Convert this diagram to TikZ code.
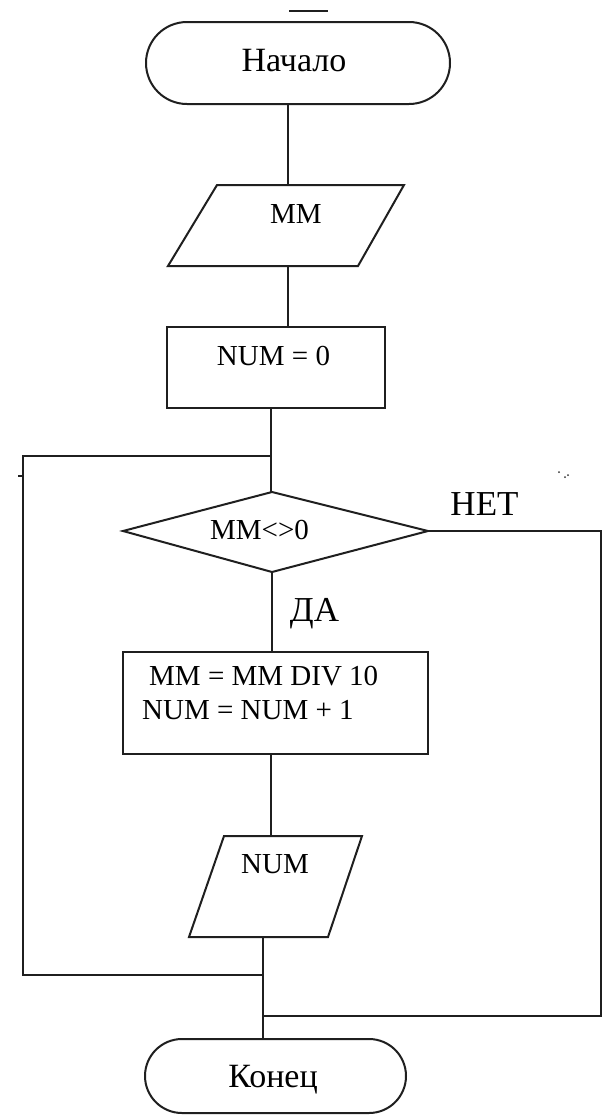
\documentclass[tikz,border=0pt]{standalone}
\usepackage{fontspec}
\setmainfont{Liberation Serif}
\begin{document}
\begin{tikzpicture}[x=1pt,y=-1pt,
  ln/.style={line width=2pt,draw=black!88},
  txt/.style={inner sep=0pt,anchor=base,font=\fontsize{29}{34}\selectfont},
  cyr/.style={inner sep=0pt,anchor=base,font=\fontsize{34}{40}\selectfont},
  big/.style={inner sep=0pt,anchor=base,font=\fontsize{35}{40}\selectfont}]
\useasboundingbox[fill=white] (0,0) rectangle (605,1117);
% decorative marks
\draw[ln] (289,11) -- (328,11);
\draw[ln] (18,476) -- (23,476);
\fill[black!80] (559,472) circle (1pt) (565,477) circle (1pt) (568,475) circle (1pt);
% start terminal
\draw[ln,rounded corners=41pt] (146,22) rectangle (450,104);
\node[cyr] (tstart) at (294,71) {Начало};
% input MM
\draw[ln] (217,185) -- (404,185) -- (358,266) -- (168,266) -- cycle;
\node[txt] (tin) at (296,223) {MM};
% NUM = 0
\draw[ln] (167,327) rectangle (385,408);
\node[txt] (tinit) at (273.5,365) {NUM = 0};
% decision
\draw[ln] (272,492) -- (428,531) -- (272,572) -- (123,531) -- cycle;
\node[txt] (tdec) at (259.5,539) {MM<>0};
\node[big] (tno) at (484.5,515) {НЕТ};
\node[big] (tyes) at (314.5,621) {ДА};
% body
\draw[ln] (123,652) rectangle (428,754);
\node[txt,anchor=base west] (tb1) at (149,685) {MM = MM DIV 10};
\node[txt,anchor=base west] (tb2) at (142,719) {NUM = NUM + 1};
% output NUM
\draw[ln] (224,836) -- (362,836) -- (328,937) -- (189,937) -- cycle;
\node[txt] (tout) at (275,873) {NUM};
% end terminal
\draw[ln,rounded corners=37pt] (145,1039) rectangle (406,1113);
\node[cyr] (tend) at (273,1087) {Конец};
% connection points
\coordinate (a1) at (288,104);
\coordinate (a2) at (288,185);
\coordinate (b1) at (288,266);
\coordinate (b2) at (288,327);
\coordinate (c1) at (271,408);
\coordinate (j1) at (271,456);
\coordinate (c2) at (271,492);
\coordinate (d1) at (272,572);
\coordinate (d2) at (272,652);
\coordinate (dr) at (428,531);
\coordinate (e1) at (271,754);
\coordinate (e2) at (271,836);
\coordinate (f1) at (263,937);
\coordinate (j2) at (263,975);
\coordinate (j3) at (263,1016);
\coordinate (f2) at (263,1039);
% connectors
\draw[ln] (a1) -- (a2);
\draw[ln] (b1) -- (b2);
\draw[ln] (c1) -- (c2);
\draw[ln] (d1) -- (d2);
\draw[ln] (e1) -- (e2);
\draw[ln] (f1) -- (f2);
\draw[ln] (j2) -- (23,975) -- (23,456) -- (j1);
\draw[ln] (dr) -- (601,531) -- (601,1016) -- (j3);
\end{tikzpicture}
\end{document}
